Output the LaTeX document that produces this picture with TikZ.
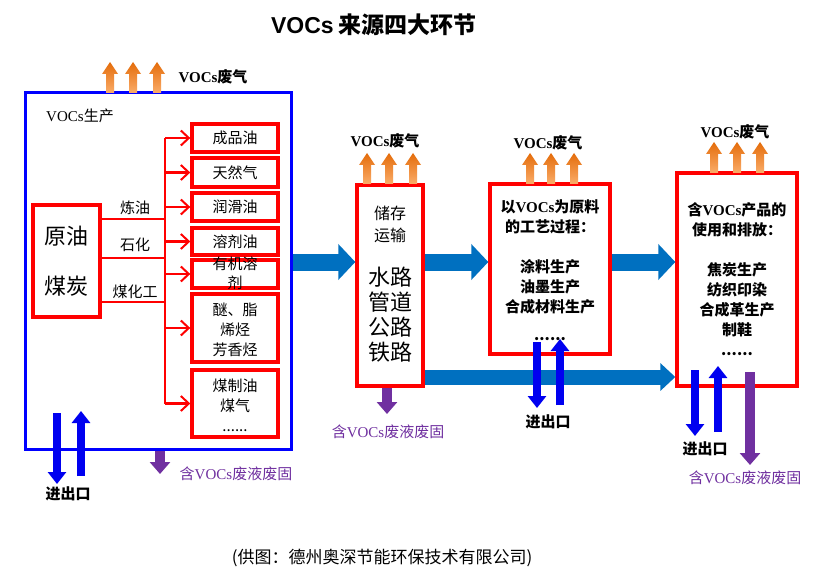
\documentclass[tikz,border=0pt]{standalone}
\usepackage{fontspec}
\setmainfont{Liberation Serif}
\newfontfamily\cjk{Noto Sans CJK SC}
\newfontfamily\lsans{Liberation Sans}
\usetikzlibrary{arrows.meta}
\definecolor{bigblue}{RGB}{0,112,192}
\definecolor{ioblue}{RGB}{0,0,240}
\definecolor{vpurple}{RGB}{112,48,160}
\definecolor{ordark}{RGB}{228,108,10}
\definecolor{orlight}{RGB}{250,172,105}
\newcommand\voc{{\rmfamily VOCs}}
\newcommand\fs[2]{\fontsize{#1}{#2}\selectfont}
\begin{document}
\begin{tikzpicture}[x=1pt,y=-1pt,
  redbox/.style={draw=red, line width=3.4pt, fill=white, inner sep=0pt},
  txt/.style={font=\cjk\fs{15}{20}, align=center, inner sep=0pt},
  btxt/.style={font=\cjk\bfseries\fs{15}{20}, align=center, inner sep=0pt},
  ptxt/.style={font=\cjk\fs{15}{20}, text=vpurple, align=center, inner sep=0pt},
  redl/.style={draw=red, line width=2.3pt},
  redarr/.style={draw=red, line width=2.3pt, -{Straight Barb[length=8pt,width=15pt,line width=2pt]}},
  bigarr/.style={draw=bigblue, line width=17pt, -{Triangle[width=35pt,length=17pt]}},
  lowarr/.style={draw=bigblue, line width=15pt, -{Triangle[width=27pt,length=15pt]}},
  ioarr/.style={draw=ioblue, line width=8pt, -{Triangle[width=18pt,length=12pt]}},
  purarr/.style={draw=vpurple, line width=10pt, -{Triangle[width=20pt,length=12pt]}},
  uparr/.pic={\shade[top color=ordark, bottom color=orlight]
     (-4,0) -- (-4,-19) -- (-8,-19) -- (0,-31) -- (8,-19) -- (4,-19) -- (4,0) -- cycle;}
]
\useasboundingbox (0,0) rectangle (829,580);
\fill[white] (0,0) rectangle (829,580);

% title
\node[inner sep=0pt, font=\cjk\bfseries\fs{23}{26}] (title) at (374,25) {{\lsans VOCs}\ 来源四大环节};

% ===== production box =====
\node[draw=blue, line width=3pt, minimum width=266pt, minimum height=356pt, inner sep=0pt] (prod) at (158,271) {};
\node[txt] (prodl) at (80,116) {\voc 生产};
\node[redbox, minimum width=67pt, minimum height=112pt] (src) at (66.5,261) {};
\node[inner sep=0pt, align=center, font=\cjk\fs{22}{50}] (srct) at (src) {原油\\煤炭};

\node[redbox, minimum width=86pt, minimum height=28pt] (p1) at (235,138) {};
\node[redbox, minimum width=86pt, minimum height=29pt] (p2) at (235,172.5) {};
\node[redbox, minimum width=86pt, minimum height=28pt] (p3) at (235,207) {};
\node[redbox, minimum width=86pt, minimum height=27pt] (p4) at (235,241.5) {};
\node[redbox, minimum width=86pt, minimum height=28pt] (p5) at (235,274) {};
\node[redbox, minimum width=86pt, minimum height=68pt] (p6) at (235,328) {};
\node[redbox, minimum width=86pt, minimum height=67pt] (p7) at (235,403.5) {};
\node[txt] (p1t) at (p1) {成品油};
\node[txt] (p2t) at (p2) {天然气};
\node[txt] (p3t) at (p3) {润滑油};
\node[txt] (p4t) at (p4) {溶剂油};
\node[txt, font=\cjk\fs{15}{19}] (p5t) at (235,273.5) {有机溶\\剂};
\node[txt] (p6t) at (235,330) {醚、脂\\烯烃\\芳香烃};
\node[txt] (p7t) at (235,405) {煤制油\\煤气\\......};

\coordinate (j1) at (165,219);
\coordinate (j2) at (165,258);
\coordinate (j3) at (165,302);
\draw[redl] (src.east |- j1) -- (j1);
\draw[redl] (src.east |- j2) -- (j2);
\draw[redl] (src.east |- j3) -- (j3);
\draw[redl] (p1.west -| j1) -- (p7.west -| j1);
\foreach \p in {p1,p2,p3,p4,p5,p6,p7}
  \draw[redarr] (\p.west -| j1) -- (\p.west);
\node[txt] (l1) at (135,208) {炼油};
\node[txt] (l2) at (135,245) {石化};
\node[txt] (l3) at (135,292) {煤化工};

\pic at (110,93) {uparr};
\pic at (133,93) {uparr};
\pic at (157,93) {uparr};
\node[btxt] (g1) at (213,77) {\voc 废气};

\coordinate (io1a) at (57,413);
\coordinate (io1b) at (57,484);
\coordinate (io2a) at (81,476);
\coordinate (io2b) at (81,411);
\draw[ioarr] (io1a) -- (io1b);
\draw[ioarr] (io2a) -- (io2b);
\node[btxt] (io1) at (68,494) {进出口};
\coordinate (w1b) at (160,474);
\draw[purarr] (prod.south -| w1b) -- (w1b);
\node[ptxt] (w1) at (236,474) {含\voc 废液废固};

% ===== storage / transport =====
\node[redbox, minimum width=66pt, minimum height=201pt] (mid) at (390,285.5) {};
\node[txt, font=\cjk\fs{16}{22}] (m1) at (390,224) {储存\\运输};
\node[txt, font=\cjk\fs{22}{25}] (m2) at (390,314.5) {水路\\管道\\公路\\铁路};
\pic at (367,184) {uparr};
\pic at (389,184) {uparr};
\pic at (413,184) {uparr};
\node[btxt] (g2) at (385,141) {\voc 废气};
\coordinate (w2b) at (387,414);
\draw[purarr] (mid.south -| w2b) -- (w2b);
\node[ptxt] (w2) at (388,432) {含\voc 废液废固};

% ===== process =====
\node[redbox, minimum width=120pt, minimum height=170pt] (t3) at (550,269) {};
\node[btxt] (t3t) at (550,270) {以\voc 为原料\\的工艺过程：\\[20pt]涂料生产\\油墨生产\\合成材料生产\\[8pt]......};
\pic at (530,184) {uparr};
\pic at (551,184) {uparr};
\pic at (574,184) {uparr};
\node[btxt] (g3) at (548,143) {\voc 废气};

% ===== use / emission =====
\node[redbox, minimum width=120pt, minimum height=213pt] (rt) at (737,279.5) {};
\node[btxt] (rtt) at (737,279) {含\voc 产品的\\使用和排放：\\[20pt]焦炭生产\\纺织印染\\合成革生产\\制鞋\\......};
\pic at (714,173) {uparr};
\pic at (737,173) {uparr};
\pic at (760,173) {uparr};
\node[btxt] (g4) at (735,132) {\voc 废气};

% ===== big arrows =====
\coordinate (a1) at (300,262);
\coordinate (a4) at (430,377);
\draw[bigarr] (prod.east |- a1) -- (mid.west |- a1);
\draw[bigarr] (mid.east |- a1) -- (t3.west |- a1);
\draw[bigarr] (t3.east |- a1) -- (rt.west |- a1);
\draw[lowarr] (mid.east |- a4) -- (rt.west |- a4);

% io arrows of process and use boxes
\coordinate (io3a) at (537,342);
\coordinate (io3b) at (537,408);
\coordinate (io4a) at (560,405);
\coordinate (io4b) at (560,339);
\draw[ioarr] (io3a) -- (io3b);
\draw[ioarr] (io4a) -- (io4b);
\node[btxt] (io2) at (548,422) {进出口};
\coordinate (io5a) at (695,370);
\coordinate (io5b) at (695,436);
\coordinate (io6a) at (718,432);
\coordinate (io6b) at (718,366);
\draw[ioarr] (io5a) -- (io5b);
\draw[ioarr] (io6a) -- (io6b);
\node[btxt] (io3) at (705,449) {进出口};
\coordinate (w3a) at (750,372);
\coordinate (w3b) at (750,465);
\draw[purarr] (w3a) -- (w3b);
\node[ptxt] (w3) at (745,478) {含\voc 废液废固};

% caption
\node[inner sep=0pt, font=\cjk\fs{17}{20}] (cap) at (382,558) {(供图：德州奥深节能环保技术有限公司)};
\end{tikzpicture}
\end{document}
